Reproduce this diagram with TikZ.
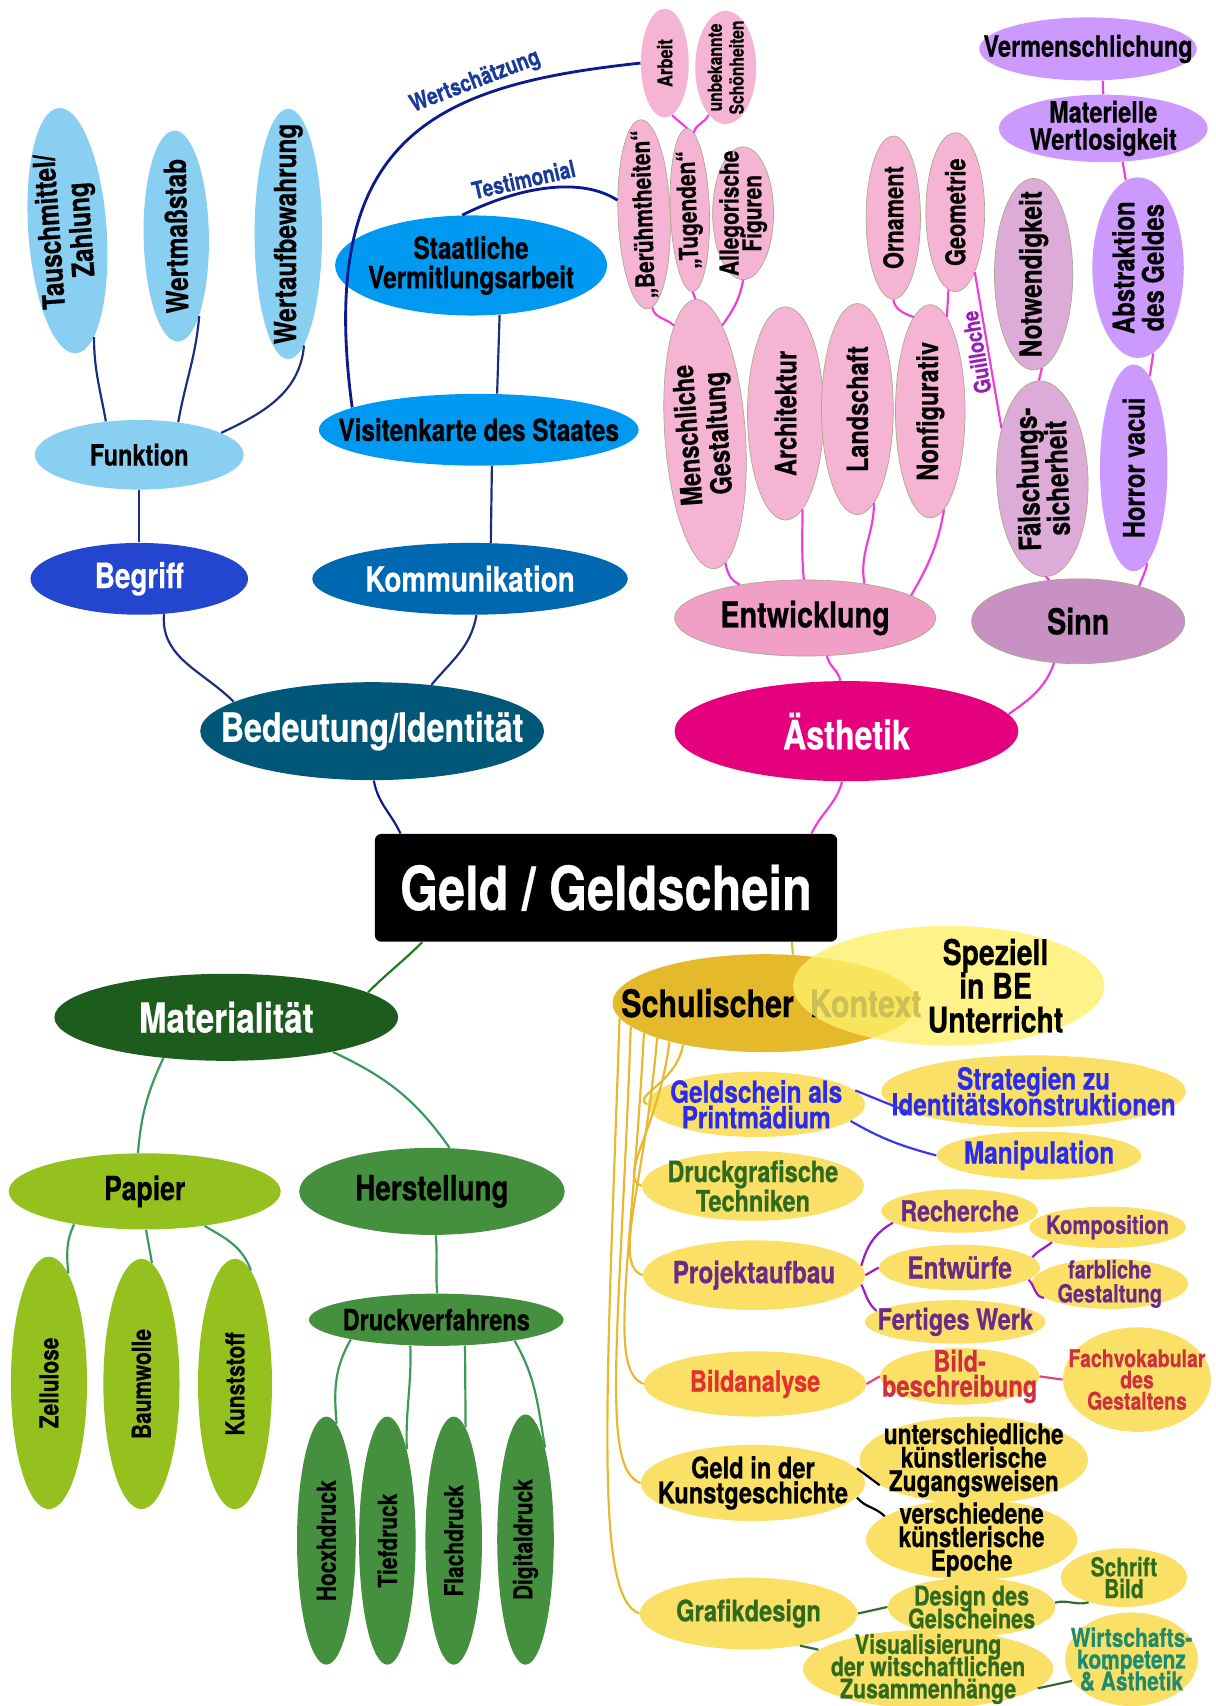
\documentclass[tikz,border=0pt]{standalone}
\usepackage{fontspec}
\setmainfont{TeX Gyre Heros}[FakeStretch=0.8, BoldFeatures={FakeBold=0.5}]
\usepackage{tikz}
\usetikzlibrary{shapes.geometric, positioning}
\definecolor{funkblue}{HTML}{88CFF2}
\definecolor{staatblue}{HTML}{0099F2}
\definecolor{begrblue}{HTML}{2446CE}
\definecolor{kommblue}{HTML}{0067B1}
\definecolor{bedeublue}{HTML}{005778}
\definecolor{navyline}{HTML}{1B2E7E}
\definecolor{wertline}{HTML}{0C1A90}
\definecolor{labelblue}{HTML}{1A3A9A}
\definecolor{aesthpink}{HTML}{E5007D}
\definecolor{entwpink}{HTML}{F0A0C6}
\definecolor{lightpink}{HTML}{F5B4D4}
\definecolor{sinnmauve}{HTML}{C891C3}
\definecolor{lightmauve}{HTML}{DDABD7}
\definecolor{lilac}{HTML}{CC99FF}
\definecolor{pinkline}{HTML}{F03CDC}
\definecolor{guillpurple}{HTML}{9C1CB8}
\definecolor{rimgray}{HTML}{A8A888}
\definecolor{matgreen}{HTML}{1C5C1C}
\definecolor{papgreen}{HTML}{95C11F}
\definecolor{hergreen}{HTML}{45903F}
\definecolor{greenline}{HTML}{3A9A5C}
\definecolor{matline}{HTML}{1E7A22}
\definecolor{schulgold}{HTML}{E5B92C}
\definecolor{spezyellow}{HTML}{FFEF6A}
\definecolor{childyellow}{HTML}{FAE066}
\definecolor{goldline}{HTML}{E8B830}
\definecolor{limeline}{HTML}{C8C828}
\definecolor{txtblue}{HTML}{2B2BF0}
\definecolor{txtgreen}{HTML}{2F6B1E}
\definecolor{txtpurple}{HTML}{6A2A88}
\definecolor{txtred}{HTML}{E53030}
\definecolor{txtrose}{HTML}{CF3040}
\definecolor{txtteal}{HTML}{1E8A70}
\definecolor{blueline}{HTML}{3535F5}
\definecolor{purpleline}{HTML}{9A1BC9}
\definecolor{roseline}{HTML}{E8407A}
\definecolor{darkgreenline}{HTML}{356B2D}
\newcommand\fsz[2]{\fontsize{#1}{#2}\selectfont\lineskiplimit=-30pt\bfseries}

\begin{document}
\begin{tikzpicture}[x=0.5pt, y=0.5pt,
    bubble/.style={ellipse, fill=#1, inner sep=-60pt, align=center},
    dims/.style 2 args={minimum width=#1pt, minimum height=#2pt},
    rimmed/.style={draw=rimgray, line width=0.3pt},
    rootbox/.style={rectangle, rounded corners=3pt, fill=black, text=white},
    link/.style={line width=1pt, draw=#1},
    edgetag/.style={font=\fsz{11}{11}, text=#1, inner sep=1pt}
]
\useasboundingbox (0,0) rectangle (1117,-1568);

% Root
\node[rootbox, minimum width=212.5pt, minimum height=49.5pt, font=\fsz{28}{28}] (geld) at (557,-816) {Geld / Geldschein};

% Bedeutung / Identitaet
\node[bubble=funkblue, rotate=94, dims={113}{36}, font=\fsz{14}{14.5}] (tausch) at (62,-212) {Tauschmittel/\\Zahlung};
\node[bubble=funkblue, rotate=91, dims={97}{30}, font=\fsz{14}{14}] (wmass) at (162,-217) {Wertmaßstab};
\node[bubble=funkblue, rotate=90, dims={115}{31}, font=\fsz{14}{14}] (wauf) at (265,-215) {Wertaufbewahrung};
\node[bubble=funkblue, dims={96}{32}, font=\fsz{13.5}{13.5}] (funk) at (128,-418) {Funktion};
\node[bubble=begrblue, dims={100}{33}, text=white, font=\fsz{16}{16}] (begr) at (128,-532) {Begriff};
\node[bubble=kommblue, dims={145}{33}, text=white, font=\fsz{16}{16}] (komm) at (432,-532) {Kommunikation};
\node[bubble=bedeublue, dims={158}{45}, text=white, font=\fsz{18.5}{18.5}] (bedeu) at (342,-672) {Bedeutung/Identität};
\node[bubble=staatblue, dims={125}{46}, font=\fsz{14}{13.5}] (staat) at (433,-244) {Staatliche\\Vermitlungsarbeit};
\node[bubble=staatblue, dims={147}{33}, font=\fsz{14}{14}] (visit) at (440,-395) {Visitenkarte des Staates};

% Aesthetik
\node[bubble=aesthpink, dims={158}{46}, text=white, font=\fsz{18.5}{18.5}] (aesth) at (778,-672) {Ästhetik};
\node[bubble=entwpink, rimmed, dims={120}{35}, font=\fsz{16.5}{16.5}] (entw) at (740,-568) {Entwicklung};
\node[bubble=sinnmauve, rimmed, dims={98}{39}, font=\fsz{16.5}{16.5}] (sinn) at (991,-571) {Sinn};
\node[bubble=lightpink, rimmed, rotate=94, dims={124}{37}, font=\fsz{13.5}{14}] (mensch) at (648,-399) {Menschliche\\Gestaltung};
\node[bubble=lightpink, rimmed, rotate=90, dims={98}{35}, font=\fsz{13.5}{13.5}] (archi) at (722,-380) {Architektur};
\node[bubble=lightpink, rimmed, rotate=90, dims={97}{33}, font=\fsz{13.5}{13.5}] (land) at (788,-376) {Landschaft};
\node[bubble=lightpink, rimmed, rotate=90, dims={98}{32}, font=\fsz{13.5}{13.5}] (nonfig) at (855,-378) {Nonfigurativ};
\node[bubble=lightpink, rimmed, rotate=90, dims={75}{25}, font=\fsz{12.5}{12.5}] (ornam) at (821,-200) {Ornament};
\node[bubble=lightpink, rimmed, rotate=90, dims={73}{27}, font=\fsz{12.5}{12.5}] (geom) at (878,-195) {Geometrie};
\node[bubble=lightpink, rimmed, rotate=92, dims={87}{24}, font=\fsz{12}{12}] (beruehmt) at (592,-197) {„Berühmtheiten“};
\node[bubble=lightpink, rimmed, rotate=92, dims={75}{18}, font=\fsz{12}{12}] (tugend) at (634,-193) {„Tugenden“};
\node[bubble=lightpink, rimmed, rotate=90, dims={61}{28}, font=\fsz{12}{10.5}] (alleg) at (683,-196) {Allegorische\\Figuren};
\node[bubble=lightpink, rotate=90, dims={50}{22}, font=\fsz{9.5}{9.5}] (arbeit) at (611,-58) {Arbeit};
\node[bubble=lightpink, rotate=90, dims={52}{28}, font=\fsz{9}{10}] (unbek) at (667,-62) {unbekannte\\Schönheiten};
\node[bubble=lightmauve, rimmed, rotate=90, dims={88}{36}, font=\fsz{14}{14}] (notw) at (950,-252) {Notwendigkeit};
\node[bubble=lightmauve, rimmed, rotate=92, dims={90}{42}, font=\fsz{14}{13.5}] (faelsch) at (958,-440) {Fälschungs-\\sicherheit};
\node[bubble=lilac, rotate=90, dims={83}{42}, font=\fsz{13.7}{13.5}] (abstr) at (1046,-246) {Abstraktion\\des Geldes};
\node[bubble=lilac, rotate=90, dims={95}{31}, font=\fsz{13.6}{13.6}] (horror) at (1042,-430) {Horror vacui};
\node[bubble=lilac, dims={100}{29}, font=\fsz{13.5}{13.5}] (vermen) at (1000,-45) {Vermenschlichung};
\node[bubble=lilac, dims={96}{31}, font=\fsz{13.5}{12.5}] (materi) at (1014,-118) {Materielle\\Wertlosigkeit};

% Materialitaet
\node[bubble=matgreen, dims={158}{40}, text=white, font=\fsz{19}{19}] (mat) at (208,-935) {Materialität};
\node[bubble=papgreen, dims={125}{35}, font=\fsz{15.3}{15.3}] (papier) at (133,-1095) {Papier};
\node[bubble=hergreen, dims={122}{40}, font=\fsz{16}{16}] (herst) at (397,-1095) {Herstellung};
\node[bubble=papgreen, rotate=90, dims={116}{35}, font=\fsz{12}{12}] (zell) at (45,-1271) {Zellulose};
\node[bubble=papgreen, rotate=90, dims={115}{35}, font=\fsz{12}{12}] (baum) at (130,-1272) {Baumwolle};
\node[bubble=papgreen, rotate=90, dims={115}{34}, font=\fsz{12}{12}] (kunst) at (216,-1272) {Kunststoff};
\node[bubble=hergreen, dims={117}{24}, font=\fsz{13.5}{13.5}] (druckv) at (401,-1213) {Druckverfahrens};
\node[bubble=hergreen, rotate=90, dims={114}{27}, font=\fsz{12}{12}] (hoch) at (300,-1416) {Hocxhdruck};
\node[bubble=hergreen, rotate=90, dims={114}{26}, font=\fsz{12}{12}] (tief) at (356,-1416) {Tiefdruck};
\node[bubble=hergreen, rotate=90, dims={114}{26}, font=\fsz{12}{12}] (flach) at (417,-1416) {Flachdruck};
\node[bubble=hergreen, rotate=90, dims={115}{26}, font=\fsz{12}{12}] (digi) at (483,-1415) {Digitaldruck};

% Schulischer Kontext
\node[bubble=schulgold, dims={140}{45}, label={[font=\fsz{17.5}{17.5}, xshift=3pt]center:{Schulischer\hspace{3.5pt} Kontext}}] (schul) at (703,-922) {};
\node[bubble=spezyellow, fill opacity=0.8, dims={143}{55}, label={[font=\fsz{16.3}{15.5}, align=center, xshift=21.5pt, fill opacity=1, text opacity=1]center:{Speziell\\in BE\\Unterricht}}] (spez) at (872,-906) {};
\node[bubble=childyellow, dims={100}{30}, text=txtblue, font=\fsz{14}{11.8}] (gps) at (695,-1015) {Geldschein als\\Printmädium};
\node[bubble=childyellow, dims={140}{33}, text=txtblue, font=\fsz{14}{11.8}] (strat) at (950,-1003) {Strategien zu\\Identitätskonstruktionen};
\node[bubble=childyellow, dims={94}{22}, text=txtblue, font=\fsz{14}{14}] (manip) at (955,-1062) {Manipulation};
\node[bubble=childyellow, dims={102}{32}, text=txtgreen, font=\fsz{13.5}{13.5}] (druckg) at (692,-1090) {Druckgrafische\\Techniken};
\node[bubble=childyellow, dims={72}{20}, text=txtpurple, font=\fsz{13.3}{13.3}] (recher) at (882,-1113) {Recherche};
\node[bubble=childyellow, dims={72}{19}, text=txtpurple, font=\fsz{11.6}{11.6}] (kompo) at (1018,-1128) {Komposition};
\node[bubble=childyellow, dims={102}{32}, text=txtpurple, font=\fsz{14}{14}] (projekt) at (693,-1172) {Projektaufbau};
\node[bubble=childyellow, dims={74}{21}, text=txtpurple, font=\fsz{14}{14}] (entwu) at (882,-1165) {Entwürfe};
\node[bubble=childyellow, dims={72}{23}, text=txtpurple, font=\fsz{11.5}{11}] (farb) at (1020,-1180) {farbliche\\Gestaltung};
\node[bubble=childyellow, dims={83}{20}, text=txtpurple, font=\fsz{13.5}{13.5}] (fertig) at (878,-1215) {Fertiges Werk};
\node[bubble=childyellow, dims={102}{30}, text=txtred, font=\fsz{13.5}{13.5}] (bildan) at (694,-1272) {Bildanalyse};
\node[bubble=childyellow, dims={73}{26}, text=txtrose, font=\fsz{13.6}{11.5}] (bildbe) at (882,-1265) {Bild-\\beschreibung};
\node[bubble=childyellow, dims={68}{48}, text=txtrose, font=\fsz{11.2}{9.8}] (fachv) at (1045,-1268) {Fachvokabular\\des\\Gestaltens};
\node[bubble=childyellow, dims={103}{35}, font=\fsz{13.6}{11.5}] (kunstg) at (692,-1363) {Geld in der\\Kunstgeschichte};
\node[bubble=childyellow, dims={105}{40}, font=\fsz{13}{10.8}] (unters) at (895,-1342) {unterschiedliche\\künstlerische\\Zugangsweisen};
\node[bubble=childyellow, dims={97}{37}, font=\fsz{13}{10.8}] (versch) at (893,-1415) {verschiedene\\künstlerische\\Epoche};
\node[bubble=childyellow, dims={100}{33}, text=txtgreen, font=\fsz{13.6}{13.6}] (grafik) at (688,-1483) {Grafikdesign};
\node[bubble=childyellow, dims={77}{27}, text=txtgreen, font=\fsz{12.4}{10.5}] (design) at (893,-1477) {Design des\\Gelscheines};
\node[bubble=childyellow, dims={58}{27}, text=txtgreen, font=\fsz{12}{10}] (schrift) at (1033,-1450) {Schrift\\Bild};
\node[bubble=childyellow, dims={115}{36}, text=txtgreen, font=\fsz{12.3}{10.2}] (visual) at (853,-1534) {Visualisierung\\der witschaftlichen\\Zusammenhänge};
\node[bubble=childyellow, dims={61}{43}, text=txtteal, font=\fsz{12}{10}] (wirt) at (1040,-1525) {Wirtschafts-\\kompetenz\\\& Ästhetik};

% Bedeutung branch links
\draw[link=navyline] (tausch.190) to[out=-90, in=100] (funk.135);
\draw[link=navyline] (wmass.195) to[out=-95, in=80] (funk.40);
\draw[link=navyline] (wauf.188) to[out=-95, in=25] (funk.15);
\draw[link=navyline] (funk.270) -- (begr.90);
\draw[link=navyline] (begr.305) to[out=-95, in=135] (bedeu.168);
\draw[link=navyline] (komm.280) to[out=-100, in=50] (bedeu.38);
\draw[link=navyline] (visit.290) -- (komm.60);
\draw[link=navyline] (staat.300) -- (visit.63);
\draw[link=wertline] (bedeu.272) to[out=-80, in=115] ([xshift=12pt]geld.north west);
\draw[link=wertline, line width=1.3pt] (visit.170) .. controls (290,-125) and (400,-78) .. (arbeit.north)
  node[edgetag=labelblue, pos=.7, sloped, above] (wert) {Wertschätzung};
\draw[link=wertline, line width=1.3pt] (staat.100) .. controls (470,-175) and (530,-160) .. (beruehmt.60)
  node[edgetag=labelblue, pos=.4, sloped, above] (testi) {Testimonial};

% Aesthetik branch links
\draw[link=pinkline] ([xshift=-12pt]geld.north east) to[out=65, in=-105] (aesth.265);
\draw[link=pinkline] (aesth.97) to[out=100, in=-80] (entw.300);
\draw[link=pinkline] (aesth.6) to[out=35, in=-110] (sinn.240);
\draw[link=pinkline] (mensch.185) to[out=-80, in=155] (entw.153);
\draw[link=pinkline] (archi.190) to[out=-90, in=95] (entw.92);
\draw[link=pinkline] (land.190) to[out=-90, in=100] (entw.30);
\draw[link=pinkline] (nonfig.188) to[out=-100, in=60] (entw.12);
\draw[link=pinkline] (beruehmt.183) to[out=-80, in=135] (mensch.12);
\draw[link=pinkline] (tugend.west) -- (mensch.east);
\draw[link=pinkline] (alleg.west) to[out=-100, in=55] (mensch.347);
\draw[link=pinkline] (arbeit.188) -- (tugend.east);
\draw[link=pinkline] (tugend.355) to[out=80, in=-110] (unbek.160);
\draw[link=pinkline] (ornam.west) to[out=-80, in=160] (nonfig.10);
\draw[link=pinkline] (geom.175) -- (nonfig.350);
\draw[link=pinkline] (faelsch.37) -- (geom.198)
  node[edgetag=guillpurple, font=\fsz{10.5}{10.5}, midway, sloped, allow upside down, above] (guill) {Guilloche};
\draw[link=pinkline] (faelsch.west) -- (sinn.125);
\draw[link=pinkline] (horror.188) to[out=-100, in=70] (sinn.30);
\draw[link=pinkline] (notw.185) -- (faelsch.east);
\draw[link=pinkline] (abstr.190) -- (horror.350);
\draw[link=pinkline] (materi.300) to[out=-80, in=100] (abstr.8);
\draw[link=pinkline] (vermen.295) -- (materi.90);

% Materialitaet branch links
\draw[link=matline] ([xshift=22pt]geld.south west) to[out=-135, in=45] (mat.10);
\draw[link=greenline] (mat.213) to[out=-115, in=85] (papier.100);
\draw[link=greenline] (mat.342) to[out=-25, in=125] (herst.68);
\draw[link=greenline] (papier.205) to[out=-115, in=95] (zell.350);
\draw[link=greenline] (papier.272) -- (baum.355);
\draw[link=greenline] (papier.330) to[out=-30, in=110] (kunst.352);
\draw[link=greenline] (herst.275) to[out=-85, in=95] (druckv.88);
\draw[link=greenline] (druckv.193) to[out=-120, in=95] (hoch.355);
\draw[link=greenline] (druckv.225) to[out=-88, in=92] (tief.348);
\draw[link=greenline] (druckv.318) -- (flach.354);
\draw[link=greenline] (druckv.345) to[out=-60, in=100] (digi.348);

% Schulischer Kontext links
\draw[link=limeline] ([xshift=-21pt]geld.south east) -- (schul.60);
\draw[link=goldline] (schul.207) to[out=-100, in=150, out distance=18pt, in distance=8pt] (gps.west);
\draw[link=goldline] (schul.202) to[out=-97, in=160, out distance=40pt, in distance=12pt] (druckg.west);
\draw[link=goldline] (schul.198) to[out=-95, in=160, out distance=70pt, in distance=15pt] (projekt.west);
\draw[link=goldline] (schul.194) to[out=-93, in=160, out distance=105pt, in distance=18pt] (bildan.west);
\draw[link=goldline] (schul.190) to[out=-92, in=160, out distance=140pt, in distance=20pt] (kunstg.west);
\draw[link=goldline] (schul.186) to[out=-92, in=160, out distance=180pt, in distance=22pt] (grafik.west);
\draw[link=blueline] (gps.8) -- (strat.190);
\draw[link=blueline] (gps.350) to[out=-30, in=165] (manip.west);
\draw[link=purpleline] (projekt.5) to[out=75, in=-150] (recher.190);
\draw[link=purpleline] (projekt.east) -- (entwu.west);
\draw[link=purpleline] (projekt.355) to[out=-65, in=140] (fertig.172);
\draw[link=purpleline] (entwu.8) to[out=50, in=-140] (kompo.195);
\draw[link=purpleline] (entwu.350) to[out=-45, in=175] (farb.192);
\draw[link=roseline] (bildan.east) -- (bildbe.west);
\draw[link=roseline] (bildbe.east) -- (fachv.west);
\draw[link=black] (kunstg.8) -- (unters.195);
\draw[link=black] (kunstg.352) to[out=-50, in=135] (versch.165);
\draw[link=darkgreenline] (grafik.east) -- (design.west);
\draw[link=darkgreenline] (design.3) to[out=15, in=195] (schrift.215);
\draw[link=darkgreenline] (grafik.328) -- (visual.170);
\draw[link=darkgreenline] (visual.350) -- (wirt.200);

\end{tikzpicture}
\end{document}
